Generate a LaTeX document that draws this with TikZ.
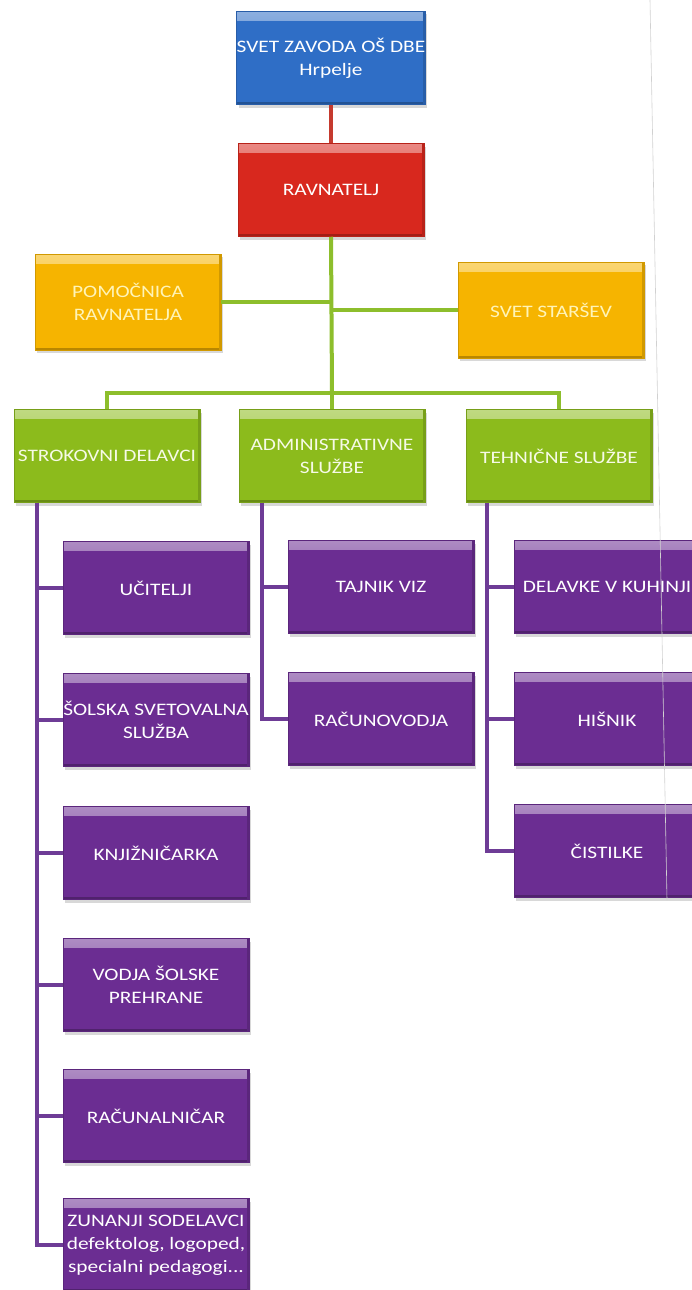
\documentclass[tikz,border=0pt]{standalone}
\usepackage{fontspec}
\setmainfont{Carlito}[FakeStretch=1.22]
\usetikzlibrary{shadows}
\definecolor{cblue}{HTML}{2F6EC6}
\definecolor{cred}{HTML}{D8281E}
\definecolor{cyellow}{HTML}{F6B400}
\definecolor{cgreen}{HTML}{8CBB1C}
\definecolor{cpurple}{HTML}{6B2D92}
\definecolor{lred}{HTML}{C53A2E}
\definecolor{lgreen}{HTML}{8DBE2C}
\definecolor{lpurple}{HTML}{6E3C96}
\definecolor{tyellow}{HTML}{FFF4B8}
\definecolor{tgreen}{HTML}{F6FAE6}
\tikzset{
  orgbox/.style={rectangle, minimum width=186pt, minimum height=93pt, inner sep=0pt,
    align=center, fill=#1, draw=#1!85!black, line width=0.5pt,
    font=\fontsize{17.5}{23}\selectfont, text=white,
    drop shadow={shadow xshift=2pt, shadow yshift=-3pt, opacity=0.3},
    path picture={
      \shade[top color=#1!55!white, bottom color=#1]
        (path picture bounding box.north west) rectangle
        ([yshift=-9pt]path picture bounding box.north east);
      \fill[#1!75!black] ([yshift=2.5pt]path picture bounding box.south west)
        rectangle (path picture bounding box.south east);
      \fill[#1!85!black] ([xshift=-2.5pt]path picture bounding box.north east)
        rectangle (path picture bounding box.south east);
    }},
  wire/.style={line width=4pt, draw=#1},
}
\begin{document}
\begin{tikzpicture}[x=1pt, y=-1pt]
\useasboundingbox (0,0) rectangle (692,1290);
\fill[white] (0,0) rectangle (692,1290);
\clip (0,0) rectangle (692,1290);

% nodes
\node[orgbox=cblue] (svet) at (331,58) {SVET ZAVODA OŠ DBE\\Hrpelje};
\node[orgbox=cred] (rav) at (331,190) {RAVNATELJ};
\node[orgbox=cyellow, text=tyellow, minimum height=96pt] (pom) at (128,302) {POMOČNICA\\RAVNATELJA};
\node[orgbox=cyellow, text=tyellow, minimum height=96pt] (ss) at (551,310) {SVET STARŠEV};

\node[orgbox=cgreen, text=tgreen] (strok) at (107,456) {STROKOVNI DELAVCI};
\node[orgbox=cgreen, text=tgreen] (adm) at (332,456) {ADMINISTRATIVNE\\SLUŽBE};
\node[orgbox=cgreen, text=tgreen] (teh) at (559,456) {TEHNIČNE SLUŽBE};

\node[orgbox=cpurple] (uc) at (156,588) {UČITELJI};
\node[orgbox=cpurple] (sol) at (156,720) {ŠOLSKA SVETOVALNA\\SLUŽBA};
\node[orgbox=cpurple] (knj) at (156,853) {KNJIŽNIČARKA};
\node[orgbox=cpurple] (vod) at (156,985) {VODJA ŠOLSKE\\PREHRANE};
\node[orgbox=cpurple] (rac) at (156,1116) {RAČUNALNIČAR};
\node[orgbox=cpurple] (zun) at (156,1245) {ZUNANJI SODELAVCI\\defektolog, logoped,\\specialni pedagogi...};

\node[orgbox=cpurple] (taj) at (381,587) {TAJNIK VIZ};
\node[orgbox=cpurple] (racv) at (381,719) {RAČUNOVODJA};

\node[orgbox=cpurple] (del) at (607,587) {DELAVKE V KUHINJI};
\node[orgbox=cpurple] (his) at (607,719) {HIŠNIK};
\node[orgbox=cpurple] (cis) at (607,851) {ČISTILKE};

% connectors
\draw[wire=lred] (svet.south) -- (rav.north);

\coordinate (bar) at (332,393);
\draw[wire=lgreen] (rav.south) -- (bar);
\draw[wire=lgreen] (pom.east) -- (pom.east -| bar);
\draw[wire=lgreen] (ss.west) -- (ss.west -| bar);
\draw[wire=lgreen] (strok.north) |- (bar) -| (teh.north);
\draw[wire=lgreen] (bar) -- (adm.north);

\coordinate (sv) at ([xshift=-70pt]strok.south);
\coordinate (av) at ([xshift=-70pt]adm.south);
\coordinate (tv) at ([xshift=-72pt]teh.south);
\foreach \b in {uc,sol,knj,vod,rac,zun} \draw[wire=lpurple] (sv) |- (\b.west);
\foreach \b in {taj,racv} \draw[wire=lpurple] (av) |- (\b.west);
\foreach \b in {del,his,cis} \draw[wire=lpurple] (tv) |- (\b.west);

% faint scan edge
\draw[black!18, line width=0.6pt] (650,0) -- (667,900);
\end{tikzpicture}
\end{document}
